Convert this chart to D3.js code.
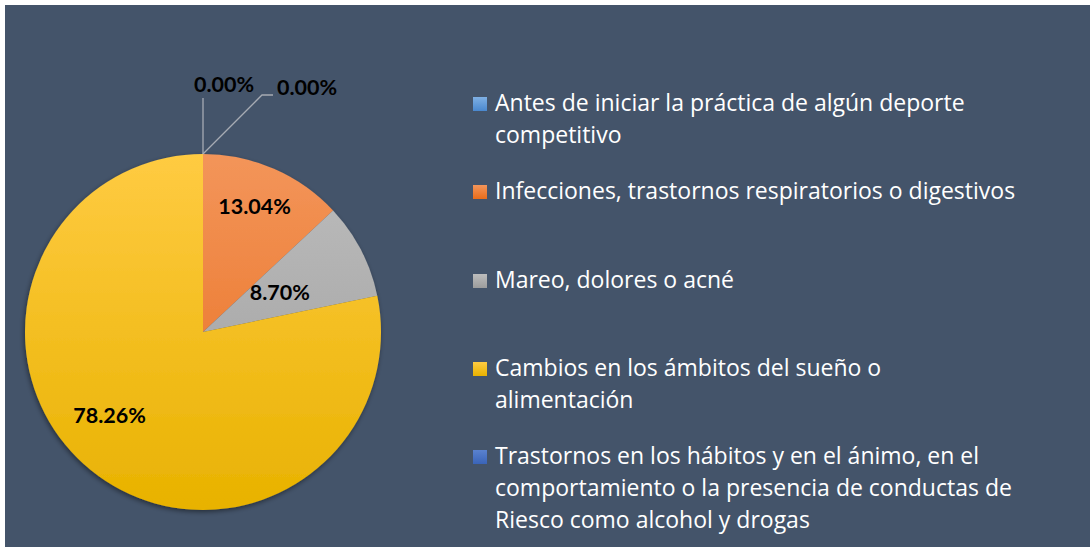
<!DOCTYPE html>
<html>
<head>
<meta charset="utf-8">
<script src="https://cdn.jsdelivr.net/npm/d3@7"></script>
<style>
  html, body { margin: 0; padding: 0; background: #ffffff; }
  svg { display: block; }
</style>
</head>
<body>
<svg id="chart" width="1090" height="547"></svg>
<script>
// Categories (legend order = slice order, clockwise from 12 o'clock)
const categories = [
  "Antes de iniciar la práctica de algún deporte competitivo",
  "Infecciones, trastornos respiratorios o digestivos",
  "Mareo, dolores o acné",
  "Cambios en los ámbitos del sueño o alimentación",
  "Trastornos en los hábitos y en el ánimo, en el comportamiento o la presencia de conductas de Riesco como alcohol y drogas"
];
const values = [0.00, 13.04, 8.70, 78.26, 0.00];
// Legend text broken into lines
const legendLines = [
  ["Antes de iniciar la práctica de algún deporte", "competitivo"],
  ["Infecciones, trastornos respiratorios o digestivos"],
  ["Mareo, dolores o acné"],
  ["Cambios en los ámbitos del sueño o", "alimentación"],
  ["Trastornos en los hábitos y en el ánimo, en el", "comportamiento o la presencia de conductas de", "Riesco como alcohol y drogas"]
];
// Gradient stops per slice: [top, bottom]
const sliceColors = [
  ["#7fb0e4", "#4a88cf"],
  ["#f3955a", "#e86c1a"],
  ["#bdbdbd", "#9c9c9c"],
  ["#ffcb42", "#e8b200"],
  ["#5a82cf", "#3a64b8"]
];

const svg = d3.select("#chart");
const W = 1090, H = 547;

// Panel
svg.append("rect").attr("x", 5).attr("y", 5).attr("width", W - 5).attr("height", H - 5).attr("fill", "#44546a");

const defs = svg.append("defs");
const cx = 203, cy = 332, r = 178;

sliceColors.forEach((c, i) => {
  const g = defs.append("linearGradient").attr("id", "grad" + i)
    .attr("gradientUnits", "userSpaceOnUse")
    .attr("x1", 0).attr("y1", -r).attr("x2", 0).attr("y2", r);
  g.append("stop").attr("offset", "0%").attr("stop-color", c[0]);
  g.append("stop").attr("offset", "100%").attr("stop-color", c[1]);
});

const shadow = defs.append("filter").attr("id", "shadow")
  .attr("x", "-20%").attr("y", "-20%").attr("width", "140%").attr("height", "140%");
shadow.append("feDropShadow").attr("dx", -1).attr("dy", 2).attr("stdDeviation", 2.5)
  .attr("flood-color", "#000").attr("flood-opacity", 0.45);

const pie = d3.pie().sort(null).value(d => d);
const arcs = pie(values);
const arc = d3.arc().innerRadius(0).outerRadius(r);

const gPie = svg.append("g").attr("transform", `translate(${cx},${cy})`);
gPie.append("g").attr("filter", "url(#shadow)")
  .selectAll("path").data(arcs).join("path")
  .attr("d", arc)
  .attr("fill", (d, i) => `url(#grad${i})`)
  .attr("stroke", "none");

const fmt = v => v.toFixed(2) + "%";
const labelFont = "Lato, 'Open Sans', sans-serif";
const labelSize = 21.5;

// In-slice labels (non-zero values), placed relative to each slice's centroid
const labelArc = d3.arc().innerRadius(r * 0.6).outerRadius(r * 0.6);
const labelShift = { 1: [9, -26], 2: [-18, 12], 3: [-26, 3] };
arcs.forEach((d, i) => {
  if (d.value === 0) return;
  const c = labelArc.centroid(d);
  const s = labelShift[i];
  gPie.append("text")
    .attr("x", c[0] + s[0]).attr("y", c[1] + s[1])
    .attr("text-anchor", "middle").attr("dominant-baseline", "middle")
    .attr("font-family", labelFont).attr("font-weight", "bold").attr("font-size", labelSize)
    .attr("fill", "#000").text(fmt(d.value));
});

// Zero-value labels above the pie with leader lines
const zeroLabels = [
  { i: 0, line: [[0, -r], [0, -234]], text: [21, -246] },
  { i: 4, line: [[0, -r], [59, -237], [70, -237]], text: [104, -243] }
];
zeroLabels.forEach(z => {
  gPie.append("path")
    .attr("d", d3.line()(z.line))
    .attr("fill", "none").attr("stroke", "#a6abb3").attr("stroke-width", 1.3);
  gPie.append("text")
    .attr("x", z.text[0]).attr("y", z.text[1])
    .attr("text-anchor", "middle").attr("dominant-baseline", "middle")
    .attr("font-family", labelFont).attr("font-weight", "bold").attr("font-size", labelSize)
    .attr("fill", "#000").text(fmt(values[z.i]));
});

// Legend
const legendTops = [105, 193, 282, 370, 458];
const lineH = 32;
const gLeg = svg.append("g");
categories.forEach((c, i) => {
  const y0 = legendTops[i];
  const lg = defs.append("linearGradient").attr("id", "lg" + i)
    .attr("x1", 0).attr("y1", 0).attr("x2", 0).attr("y2", 1);
  lg.append("stop").attr("offset", "0%").attr("stop-color", sliceColors[i][0]);
  lg.append("stop").attr("offset", "100%").attr("stop-color", sliceColors[i][1]);
  gLeg.append("rect")
    .attr("x", 473).attr("y", y0 - 8).attr("width", 14).attr("height", 14)
    .attr("fill", `url(#lg${i})`);
  const t = gLeg.append("text")
    .attr("font-family", "'Open Sans', sans-serif").attr("font-size", 23)
    .attr("fill", "#ffffff");
  legendLines[i].forEach((ln, k) => {
    t.append("tspan").attr("x", 495).attr("y", y0 + k * lineH)
      .attr("dominant-baseline", "middle").text(ln);
  });
});
</script>
</body>
</html>
